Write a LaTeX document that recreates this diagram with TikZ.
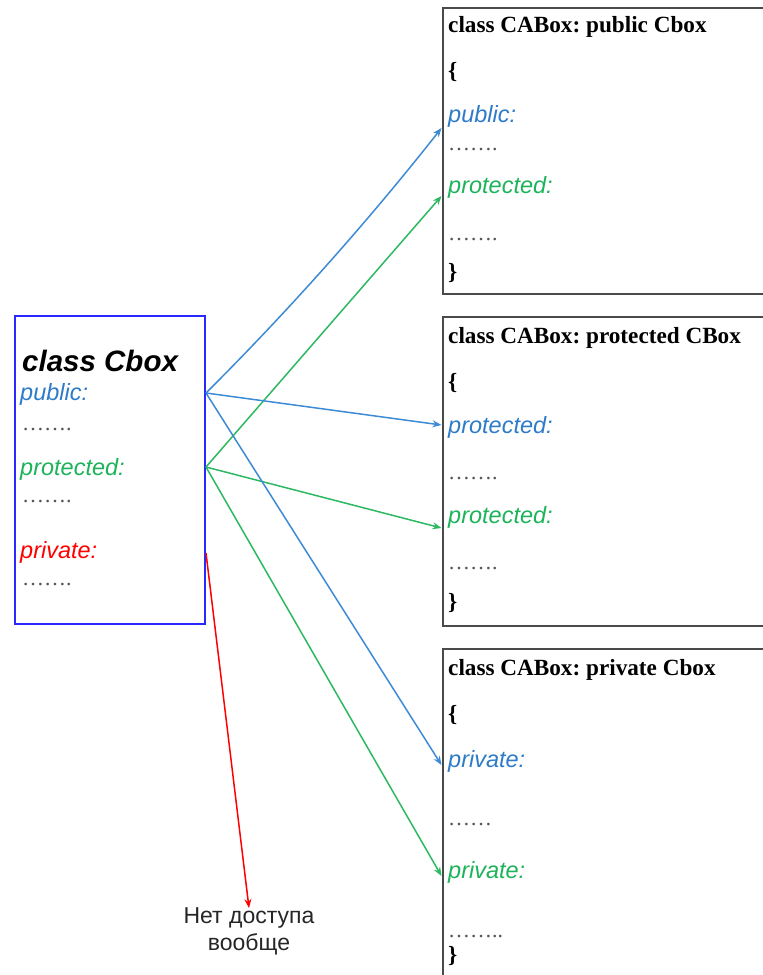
\documentclass[tikz,border=0pt]{standalone}
\usepackage{fontspec}
\setmainfont{Liberation Serif}
\setsansfont{Liberation Sans}
\usetikzlibrary{arrows.meta,calc}
\frenchspacing
\definecolor{lblue}{HTML}{3D8BD4}
\definecolor{tblue}{HTML}{2E7BC8}
\definecolor{lgreen}{HTML}{2DB862}
\definecolor{tgreen}{HTML}{1DB35A}
\definecolor{boxblue}{HTML}{2828FF}
\definecolor{boxgray}{HTML}{4A4A4A}
\definecolor{dotgray}{HTML}{555555}
\tikzset{
  lbl/.style={inner sep=0pt, anchor=base west, font=\sffamily\itshape\fontsize{23.5}{28}\selectfont},
  dotline/.style={inner sep=0pt, anchor=base west, text=dotgray, font=\fontsize{22}{26}\selectfont},
  ttl/.style={inner sep=0pt, anchor=base west, font=\bfseries\fontsize{23.2}{27}\selectfont},
  classbox/.style={draw=boxgray, line width=2pt, inner sep=0pt, anchor=north west},
  arr/.style={-{Stealth[length=9pt,width=7pt]}, line width=1.5pt},
}
\begin{document}
\begin{tikzpicture}[x=1pt,y=-1pt]
\useasboundingbox (0,0) rectangle (763,975);
\clip (0,0) rectangle (763,975);
% left box
\node[draw=boxblue, line width=2pt, inner sep=0pt, anchor=north west,
      minimum width=190pt, minimum height=308pt] (cbox) at (14,315) {};
\node[inner sep=0pt, anchor=base west, font=\sffamily\bfseries\itshape\fontsize{29.5}{34}\selectfont] (ctitle) at (22,371) {class Cbox};
\node[lbl, text=tblue] (cpub) at (20,400) {public:};
\node[dotline] (cd1) at (22,430) {…….};
\node[lbl, text=tgreen] (cprot) at (20,475) {protected:};
\node[dotline] (cd2) at (22,502) {…….};
\node[lbl, text=red] (cpriv) at (20,558) {private:};
\node[dotline] (cd3) at (22,585) {…….};

% box 1
\node[classbox, minimum width=330pt, minimum height=286pt] (b1) at (441.5,6.5) {};
\node[ttl] (b1t) at (448,32) {class CABox: public Cbox};
\node[ttl] (b1o) at (448,78) {\{};
\node[lbl, text=tblue] (b1pub) at (448,122) {public:};
\node[dotline] (b1d1) at (448,150) {…….};
\node[lbl, text=tgreen] (b1prot) at (448,193) {protected:};
\node[dotline] (b1d2) at (448,240) {…….};
\node[ttl] (b1c) at (448,279) {\}};

% box 2
\node[classbox, minimum width=330pt, minimum height=309pt] (b2) at (441.5,315.5) {};
\node[ttl] (b2t) at (448,343) {class CABox: protected CBox};
\node[ttl] (b2o) at (448,389) {\{};
\node[lbl, text=tblue] (b2p1) at (448,433) {protected:};
\node[dotline] (b2d1) at (448,479) {…….};
\node[lbl, text=tgreen] (b2p2) at (448,523) {protected:};
\node[dotline] (b2d2) at (448,569) {…….};
\node[ttl] (b2c) at (448,609) {\}};

% box 3
\node[classbox, minimum width=330pt, minimum height=340pt] (b3) at (441.5,648) {};
\node[ttl] (b3t) at (448,675) {class CABox: private Cbox};
\node[ttl] (b3o) at (448,721) {\{};
\node[lbl, text=tblue] (b3p1) at (448,767) {private:};
\node[dotline] (b3d1) at (448,825) {……};
\node[lbl, text=tgreen] (b3p2) at (448,878) {private:};
\node[dotline] (b3d2) at (448,937) {……..};
\node[ttl] (b3c) at (448,962) {\}};

% no access label
\node[inner sep=0pt, anchor=north, align=center, text=black!85,
      font=\sffamily\fontsize{23}{27}\selectfont] (noacc) at (249,907) {Нет доступа\\вообще};

% anchor points
\coordinate (sPub) at (cbox.east |- 0,393);
\coordinate (sProt) at (cbox.east |- 0,467);
\coordinate (sPriv) at (cbox.east |- 0,553);
\coordinate (e1a) at (b1.west |- 0,128);
\coordinate (e1b) at (b1.west |- 0,196);
\coordinate (e2a) at (b2.west |- 0,425);
\coordinate (e2b) at (b2.west |- 0,528);
\coordinate (e3a) at (b3.west |- 0,765);
\coordinate (e3b) at (b3.west |- 0,876);

% connectors
\draw[arr, lblue] (sPub) .. controls ($(sPub)!0.33!(e1a)+(5,5)$) and ($(sPub)!0.67!(e1a)+(5,5)$) .. (e1a);
\draw[arr, lgreen] (sProt) -- (e1b);
\draw[arr, lblue] (sPub) -- (e2a);
\draw[arr, lgreen] (sProt) -- (e2b);
\draw[arr, lblue] (sPub) -- (e3a);
\draw[arr, lgreen] (sProt) -- (e3b);
\draw[arr, red] (sPriv) -- ([yshift=-1pt]noacc.north);
\end{tikzpicture}
\end{document}
